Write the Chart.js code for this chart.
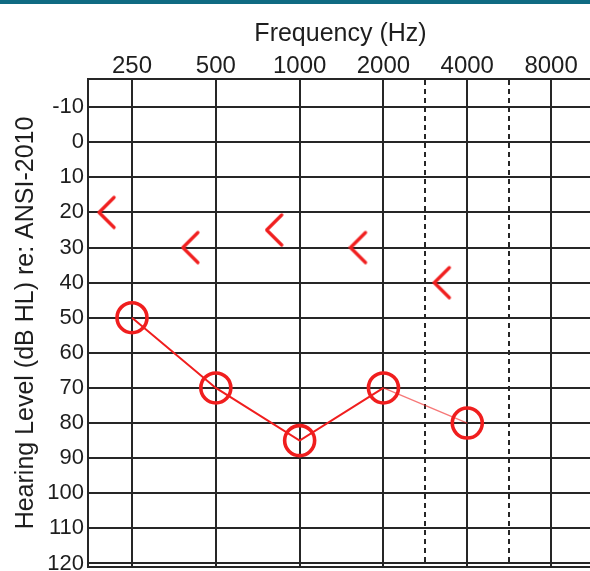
<!DOCTYPE html>
<html><head><meta charset="utf-8">
<script src="https://cdn.jsdelivr.net/npm/chart.js@4"></script>
<style>
html,body{margin:0;padding:0;overflow:hidden;background:#fff;width:590px;height:571px}
#bar{position:absolute;left:0;top:0;width:590px;height:4px;background:#0f6b82;z-index:2}
#wrap{position:absolute;left:0;top:0;width:600px;height:571px}
</style></head><body>
<div id="bar"></div>
<div id="wrap"><canvas id="c" width="600" height="571"></canvas></div>
<script>
const frequencies = [250, 500, 1000, 2000, 4000, 8000];
const freqLabels = ['250', '500', '1000', '2000', '4000', '8000'];
const interOctaveFreqs = [3000, 6000];
const airFreqs = [250, 500, 1000, 2000, 4000];
const airRight = [50, 70, 85, 70, 80];
const boneFreqs = [250, 500, 1000, 2000, 4000];
const boneRight = [20, 30, 25, 30, 40];
const yTicks = [-10, 0, 10, 20, 30, 40, 50, 60, 70, 80, 90, 100, 110, 120];

const RED = '#f01e1e';
const INK = '#1e1e1e';
const GRID = '#262626';
const FONT = "'Liberation Sans', Arial, sans-serif";

function pos(f) {
  const i = frequencies.indexOf(f);
  if (i >= 0) return i;
  for (let k = 0; k < frequencies.length - 1; k++) {
    if (f > frequencies[k] && f < frequencies[k + 1]) {
      return k + (f - frequencies[k]) / (frequencies[k + 1] - frequencies[k]);
    }
  }
  return NaN;
}
const octavePos = frequencies.map(pos);
const interPos = interOctaveFreqs.map(pos);

function makeBoneMarker() {
  const c = document.createElement('canvas');
  c.width = 70; c.height = 36;
  const g = c.getContext('2d');
  g.strokeStyle = RED; g.lineWidth = 3.2; g.lineCap = 'round'; g.lineJoin = 'round';
  g.beginPath(); g.moveTo(17, 3); g.lineTo(2, 18); g.lineTo(17, 33); g.stroke();
  return c;
}
const boneMarker = makeBoneMarker();

function zeroPad(s) { s.paddingLeft = 0; s.paddingRight = 0; s.paddingTop = 0; s.paddingBottom = 0; }

const framePlugin = {
  id: 'frame',
  beforeDatasetsDraw(chart) {
    const { ctx, chartArea: a } = chart;
    ctx.save();
    ctx.strokeStyle = GRID; ctx.lineWidth = 2;
    ctx.strokeRect(a.left, a.top, a.right - a.left, a.bottom - a.top);
    ctx.restore();
  }
};

new Chart(document.getElementById('c'), {
  type: 'line',
  data: {
    datasets: [
      {
        label: 'Air',
        data: airFreqs.map((f, i) => ({ x: pos(f), y: airRight[i] })),
        borderColor: RED,
        borderWidth: 2,
        pointStyle: 'circle',
        pointRadius: 15,
        pointBorderWidth: 3.6,
        pointBorderColor: RED,
        pointBackgroundColor: 'rgba(0,0,0,0)',
        segment: {
          borderColor: c => c.p1DataIndex === 4 ? 'rgba(240,30,30,0.6)' : RED,
          borderWidth: c => c.p1DataIndex === 4 ? 1.3 : 2
        },
        clip: false
      },
      {
        label: 'Bone',
        data: boneFreqs.map((f, i) => ({ x: pos(f), y: boneRight[i] })),
        showLine: false,
        pointStyle: boneMarker,
        pointRadius: 18,
        clip: false
      }
    ]
  },
  options: {
    responsive: false,
    animation: false,
    devicePixelRatio: 1,
    events: [],
    layout: { autoPadding: false, padding: { left: 0, top: 0, right: 7, bottom: 4 } },
    plugins: { legend: { display: false }, tooltip: { enabled: false } },
    scales: {
      x: {
        type: 'linear',
        position: 'top',
        min: -0.525,
        max: 5.5,
        afterBuildTicks: s => {
          s.ticks = octavePos.concat(interPos).sort((a, b) => a - b).map(v => ({ value: v }));
        },
        afterFit: s => { s.height = 79; zeroPad(s); },
        ticks: {
          autoSkip: false, maxRotation: 0, padding: -2,
          color: INK, font: { family: FONT, size: 24 },
          callback: v => { const i = octavePos.indexOf(v); return i >= 0 ? freqLabels[i] : ''; }
        },
        grid: { color: GRID, lineWidth: 2, drawTicks: false },
        border: {
          display: true, color: GRID, width: 2,
          dash: c => (c.tick && interPos.includes(c.tick.value)) ? [5, 4] : []
        },
        title: {
          display: true, text: 'Frequency (Hz)', color: INK,
          font: { family: FONT, size: 25 }, padding: { top: 19, bottom: 0 }
        }
      },
      y: {
        type: 'linear',
        reverse: true,
        min: -18,
        max: 121,
        afterBuildTicks: s => { s.ticks = yTicks.map(v => ({ value: v })); },
        afterFit: s => { s.width = 88; zeroPad(s); },
        ticks: {
          autoSkip: false, padding: 4, color: INK,
          font: { family: FONT, size: 22 }
        },
        grid: { color: GRID, lineWidth: 2, drawTicks: false },
        border: { display: true, color: GRID, width: 2 },
        title: {
          display: true, text: 'Hearing Level (dB HL) re: ANSI-2010', color: INK,
          font: { family: FONT, size: 25 }, padding: { top: 11, bottom: 0 }
        }
      }
    }
  },
  plugins: [framePlugin]
});
</script>
</body></html>
